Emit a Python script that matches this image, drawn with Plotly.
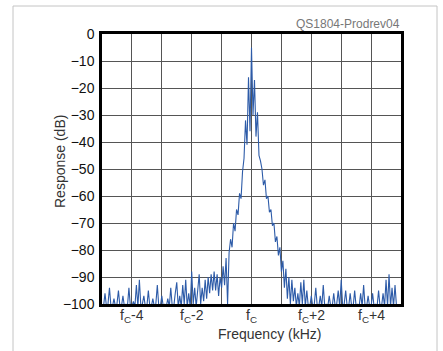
import plotly.graph_objects as go

# ---- data ----
freq_step = 0.05  # kHz between bins

# segment A: fc-4.95 ... fc-2.55
seg_a_start = -4.95
seg_a = [-101, -96, -101, -100, -94, -101, -101, -98, -101, -100,
         -95, -101, -101, -97, -101, -100, -101, -94, -101, -101,
         -99, -101, -93, -101, -91, -101, -100, -97, -101, -101,
         -95, -101, -101, -98, -101, -100, -93, -101, -101, -97,
         -101, -100, -101, -98, -101, -94, -101, -101, -96]

# segment B: fc-2.50 ... fc-1.25
seg_b_start = -2.50
seg_b = [-92, -101, -97, -101, -93, -100, -91, -101, -96, -101,
         -88, -100, -94, -101, -95, -89, -100, -94, -99, -91,
         -98, -90, -96, -89, -95, -88]

# segment C: fc-1.20 ... fc+1.45 (main lobe)
seg_c_start = -1.20
seg_c = [-95, -89, -97, -90, -94, -86, -93, -83, -100, -81,
         -76, -79, -70, -73, -65, -67, -59, -61, -51, -46,
         -32, -41, -16, -36, -5, -30, -17, -38, -29, -45,
         -47, -50, -56, -54, -61, -60, -66, -65, -71, -70,
         -77, -75, -82, -79, -88, -84, -94, -87, -98, -90,
         -100, -91, -99, -94]

# segment D: fc+1.50 ... fc+4.85
seg_d_start = 1.50
seg_d = [-101, -96, -101, -92, -100, -91, -101, -95, -101, -101,
         -97, -101, -100, -94, -101, -101, -97, -101, -93, -101,
         -100, -101, -97, -101, -101, -96, -101, -100, -95, -101,
         -91, -101, -100, -95, -101, -101, -96, -101, -101, -95,
         -101, -100, -101, -96, -101, -93, -101, -101, -97, -101,
         -101, -96, -101, -100, -101, -95, -101, -101, -96, -101,
         -91, -101, -89, -101, -94, -101, -93, -101]

segments = [(seg_a_start, seg_a), (seg_b_start, seg_b),
            (seg_c_start, seg_c), (seg_d_start, seg_d)]

x_tick_vals = [-4, -2, 0, 2, 4]
x_tick_text = ["f<sub>C</sub>-4", "f<sub>C</sub>-2", "f<sub>C</sub>",
               "f<sub>C</sub>+2", "f<sub>C</sub>+4"]
y_tick_vals = [0, -10, -20, -30, -40, -50, -60, -70, -80, -90, -100]
y_tick_text = ["0", "−10", "−20", "−30", "−40", "−50", "−60", "−70",
               "−80", "−90", "−100"]

title_text = "QS1804-Prodrev04"
x_title = "Frequency (kHz)"
y_title = "Response (dB)"

# ---- build ----
freqs, resp = [], []
for start, vals in segments:
    for i, v in enumerate(vals):
        freqs.append(round(start + i * freq_step, 4))
        resp.append(v)

W, H = 443, 351
L, R, T, B = 102, 42, 34, 47
pw, ph = W - L - R, H - T - B

def px_x(p):
    return (p - L) / pw

def px_y(p):
    return (H - B - p) / ph

font_family = "Liberation Sans, Arial, sans-serif"

fig = go.Figure()
fig.add_trace(go.Scatter(
    x=freqs, y=resp, mode="lines",
    line=dict(color="#2d5ba8", width=1.1),
    hoverinfo="skip", showlegend=False,
))

fig.update_layout(
    width=W, height=H,
    margin=dict(l=L, r=R, t=T, b=B),
    paper_bgcolor="white", plot_bgcolor="white",
    font=dict(family=font_family, size=14, color="#222"),
    xaxis=dict(
        range=[-5, 5], dtick=1, tick0=0, showticklabels=False,
        showgrid=True, gridcolor="#555", gridwidth=1,
        showline=True, linecolor="black", linewidth=2.5, mirror=True,
        zeroline=False, ticks="",
        fixedrange=True,
    ),
    yaxis=dict(
        range=[-100, 0], tickvals=y_tick_vals, ticktext=y_tick_text,
        showgrid=True, gridcolor="#555", gridwidth=1,
        showline=True, linecolor="black", linewidth=2.5, mirror=True,
        zeroline=False, ticks="", ticklabelstandoff=2,
        tickfont=dict(size=14, color="#111"),
        fixedrange=True,
    ),
)

# x tick labels (with subscripts) placed under the axis
for v, t in zip(x_tick_vals, x_tick_text):
    fig.add_annotation(text=t, xref="x", yref="paper", x=v, y=px_y(305),
                       xanchor="center", yanchor="top", showarrow=False,
                       font=dict(size=14, color="#333"))

# outer light frame
fig.add_shape(type="rect", xref="paper", yref="paper",
              x0=px_x(13), x1=px_x(437), y0=px_y(360), y1=px_y(6),
              line=dict(color="#c4c4c4", width=1), layer="below")

fig.add_annotation(text=title_text, xref="paper", yref="paper",
                   x=px_x(402), y=px_y(24), xanchor="right", yanchor="middle",
                   showarrow=False, font=dict(size=12, color="#777"))
fig.add_annotation(text=x_title, xref="paper", yref="paper",
                   x=px_x(269), y=px_y(334), xanchor="center", yanchor="middle",
                   showarrow=False, font=dict(size=14, color="#333"))
fig.add_annotation(text=y_title, xref="paper", yref="paper",
                   x=px_x(60), y=px_y(162), xanchor="center", yanchor="middle",
                   textangle=-90, showarrow=False,
                   font=dict(size=14, color="#333"))

fig.write_html("out.html")
